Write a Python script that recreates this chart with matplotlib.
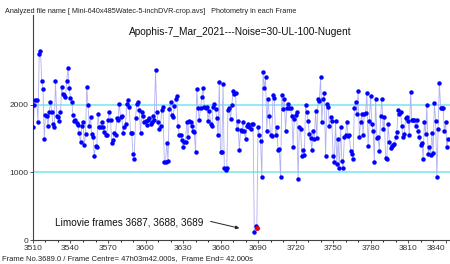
import numpy as np
import matplotlib
matplotlib.use("Agg")
import matplotlib.pyplot as plt

plt.rcParams['font.family'] = ['Liberation Sans', 'DejaVu Sans']

# photometry per frame
first_frame = 3510
flux_before = [
    1667, 2000, 2070, 2080, 1750, 2760, 2800, 2360, 2240, 1500, 1850, 1830, 1690, 1900,
    2050, 1890, 1710, 1680, 2360, 1840, 1820, 1760, 1890, 2270, 2160, 2140, 2120, 2360,
    2540, 2250, 2100, 2050, 1850, 1760, 1770, 1730, 1700, 1580, 1450, 1690,
    1750, 1400, 1570, 2270, 2000, 1690, 1820, 1570, 1520, 1250, 1390, 1380, 1860, 1670,
    1680, 1750, 1680, 1600, 1560, 1550, 1780, 1900, 1770, 1440, 1480, 1580, 1560, 1800,
    1780, 2020, 1820, 1830, 1580, 1670, 1710, 2020, 2070, 1970, 1580, 1580, 1270, 1200,
    1800, 2020, 2050, 1930, 1580, 1900, 1830, 1740, 1760, 1700, 1780, 1800, 1710, 1740,
    1830, 1770, 2510, 1900, 1740, 1650, 1690, 1930, 1970, 1160, 1160, 1440, 1170, 1940,
    2050, 1850, 1820, 1980, 2090, 2130, 1690, 1550, 1550, 1480, 1380, 1450, 1450, 1750,
    1520, 1760, 1750, 1690, 1610, 1600, 1300, 2230, 1960, 1770, 1960, 2110, 2250, 1970,
    1950, 1970, 1760, 1910, 1710, 1690, 1970, 2010, 1940, 1800, 1550, 2340, 1300, 1300,
    2310, 1070, 1030, 1070, 1930, 1950, 1790, 2000, 2200, 2160, 2170, 1650, 1760, 1330,
    1630,
    1620, 1740, 1610, 1490, 1690, 1710, 1670, 1650, 1710, 1710,
]
dip_frames = [3687, 3688, 3689]
flux_dip = [116, 200, 175]
flux_after = [
    1680, 1550, 1470, 930, 2480, 2250, 2410, 1610, 2090, 1830, 1560, 1540, 2140, 2100,
    1550, 1680, 1330, 1340, 930, 2140, 1940, 2090, 1620, 1950, 2020, 1950, 1950, 1830,
    1380, 1790,
    1850, 1890, 900, 1680, 1640, 1250, 1330, 1260, 2000, 1890, 1760, 1570, 1510, 1330,
    1620, 1500, 1910, 1510, 2090, 2060, 2410, 1740, 2090, 2180, 1240, 2020, 1970, 1690,
    1820, 1760, 1250, 1160, 1760, 1120, 1500, 1070, 1670, 1170, 1070, 1520,
    1550, 1750, 1540, 1550, 1320, 1280, 1200, 1950, 2050, 1860, 2200, 1520, 1750, 1860,
    1550, 1870, 1880, 2180, 1390, 1760, 2130, 1710, 1620, 1150, 2090, 1510, 1520, 1320,
    1830, 2090, 1640, 1820, 1210, 1200, 1710, 1450, 1360, 1390, 1410, 1420, 1520, 1600,
    1920, 1870, 1890, 1690, 1520, 1570, 1800, 1820, 1760, 1550, 2190, 1770, 1770, 1780,
    1690, 1770, 1610, 1520, 1410, 1440, 1200, 1740, 1570, 2000, 1270, 1380, 1260, 1580,
    1290, 2030, 1760, 940, 1650, 2330, 1950, 1960, 1950, 1610, 1740, 1370, 1500,
]
current_frame = 3689

flux = np.array(flux_before + flux_dip + flux_after)
frames = np.arange(first_frame, first_frame + len(flux))

fig = plt.figure(figsize=(4.5, 2.64), dpi=100)
ax = fig.add_axes([0.0733, 0.0909, 0.9267, 0.852])

for lvl in (1000, 2000):
    ax.axhline(lvl, color='#7fe8f0', lw=1.2, zorder=1)

ax.plot(frames, flux, color='#b0b0f2', lw=0.6, zorder=2)
ax.plot(frames, flux, ls='none', marker='o', ms=2.2, color='#0000ff', mec='#0000ff', zorder=3)
cur = frames == current_frame
ax.plot(frames[cur], flux[cur], ls='none', marker='o', ms=2.4, color='#ff0000', zorder=4)

ax.set_xlim(3510, 3843.5)
ax.set_ylim(0, 3330)
ax.set_xticks(np.arange(3510, 3841, 30))
ax.set_xticks(np.arange(3510, 3844, 10), minor=True)
ax.set_yticks([0, 1000, 2000])
ax.tick_params(axis='both', labelsize=6, length=2.5, width=0.6, pad=1, colors='#333333')
ax.tick_params(axis='x', which='minor', length=1.5, width=0.6)
ax.get_xticklabels()[-1].set_horizontalalignment('right')
ax.spines['top'].set_visible(False)
ax.spines['right'].set_visible(False)
for s in ('left', 'bottom'):
    ax.spines[s].set_linewidth(0.8)
    ax.spines[s].set_color('#444444')

fig.text(0.012, 0.958, 'Analyzed file name [ Mini-640x485Watec-5-inchDVR-crop.avs]   Photometry in each Frame',
         fontsize=5.2, color='#222222', va='center')
fig.text(0.535, 0.88, 'Apophis-7_Mar_2021---Noise=30-UL-100-Nugent',
         fontsize=7.3, color='#111111', ha='center', va='center')
fig.text(0.005, 0.02, 'Frame No.3689.0 / Frame Centre= 47h03m42.000s,  Frame End= 42.000s',
         fontsize=5.5, color='#222222', va='center')

ax.text(3528, 260, 'Limovie frames 3687, 3688, 3689', fontsize=7.2, color='#111111', va='center')
ax.annotate('', xy=(3675, 175), xytext=(3652, 275),
            arrowprops=dict(arrowstyle='-|>', color='#222222', lw=0.7, mutation_scale=5,
                            shrinkA=0, shrinkB=0))

fig.savefig('out.png', dpi=100)
